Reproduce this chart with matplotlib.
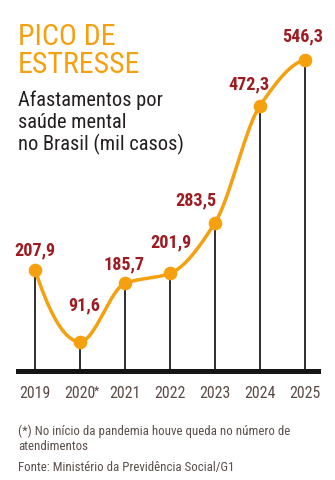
import numpy as np
import matplotlib.pyplot as plt
import matplotlib.transforms as mtransforms
from matplotlib import font_manager as fm

ORANGE = "#f5a00f"
RED = "#9e1b22"
YEAR_GRAY = "#5b4a45"
NOTE_GRAY = "#5b4f4b"

anos = ["2019", "2020", "2021", "2022", "2023", "2024", "2025"]
casos = [207.9, 91.6, 185.7, 201.9, 283.5, 472.3, 546.3]
rotulos = ["207,9", "91,6", "185,7", "201,9", "283,5", "472,3", "546,3"]
# label position: (dx, baseline height above point) in pixels
offsets = [(0, 14.5), (4.5, 31), (-1, 13.5), (1, 25.5), (-19, 17), (-11.5, 16.5), (-2, 18)]


def pick_fonts():
    # look for a condensed/narrow face, fall back to Roboto
    prefs = ["RobotoCondensed", "Roboto_Condensed", "LiberationSansNarrow",
             "DejaVuSansCondensed", "OpenSans_Condensed", "OpenSansCondensed"]
    files = [f.fname for f in fm.fontManager.ttflist]
    for p in prefs:
        hits = [f for f in files if p in f.replace(" ", "").replace("-", "")]
        if not hits:
            continue
        reg = [f for f in hits if not any(k in f for k in ["Bold", "Italic", "Oblique", "Light", "Thin", "Black", "Medium", "Semi", "Extra"])]
        bold = [f for f in hits if "Bold" in f and not any(k in f for k in ["Italic", "Oblique", "Semi", "Extra"])]
        if reg:
            r = fm.FontProperties(fname=reg[0])
            b = fm.FontProperties(fname=bold[0]) if bold else fm.FontProperties(fname=reg[0], weight="bold")
            return r, b
    return fm.FontProperties(family="Roboto"), fm.FontProperties(family="Roboto", weight="bold")


FONT, FONT_B = pick_fonts()


def pchip_curve(xs, ys, n=60):
    xs = np.asarray(xs, float)
    ys = np.asarray(ys, float)
    s = np.diff(ys) / np.diff(xs)
    m = np.zeros_like(ys)
    for i in range(1, len(ys) - 1):
        if s[i - 1] * s[i] > 0:
            m[i] = 2 / (1 / s[i - 1] + 1 / s[i])
    for idx, s0, s1 in [(0, s[0], s[1]), (-1, s[-1], s[-2])]:
        d = (3 * s0 - s1) / 2
        if np.sign(d) != np.sign(s0):
            d = 0
        elif np.sign(s0) != np.sign(s1) and abs(d) > abs(3 * s0):
            d = 3 * s0
        m[idx] = d
    px, py = [], []
    for i in range(len(xs) - 1):
        h = xs[i + 1] - xs[i]
        t = np.linspace(0, 1, n)
        h00 = 2 * t**3 - 3 * t**2 + 1
        h10 = t**3 - 2 * t**2 + t
        h01 = -2 * t**3 + 3 * t**2
        h11 = t**3 - t**2
        yy = h00 * ys[i] + h10 * h * m[i] + h01 * ys[i + 1] + h11 * h * m[i + 1]
        px.append(xs[i] + t * h)
        py.append(yy)
    return np.concatenate(px), np.concatenate(py)


W, H = 335, 480
fig = plt.figure(figsize=(W / 100, H / 100), dpi=100)
fig.patch.set_facecolor("white")

Y0 = 45.2
ax = fig.add_axes([18 / W, (H - 370.5) / H, 300 / W, 330.5 / H])
ax.set_xlim(-17 / 45, 6 + 13 / 45)
ax.set_ylim(Y0, Y0 + 330.5 / 0.62)
ax.axis("off")

x = np.arange(len(anos))
ax.vlines(x, Y0, casos, color="#2e2e2e", lw=1.4, zorder=1)
ax.axhline(Y0, color="#151515", lw=3.6, zorder=2, clip_on=False)

cx, cy = pchip_curve(x, casos)
ax.plot(cx, cy, color=ORANGE, lw=2.5, zorder=3, solid_capstyle="round")
ax.plot(x, casos, "o", color=ORANGE, ms=8.8, zorder=4)

val_texts = []
for xi, yi, lab, (dx, dy) in zip(x, casos, rotulos, offsets):
    t = ax.annotate(lab, (xi, yi), xytext=(dx, dy), textcoords="offset pixels",
                    ha="center", va="baseline", color=RED, fontproperties=FONT_B, fontsize=13)
    val_texts.append(t)

yr = mtransforms.blended_transform_factory(ax.transData, fig.transFigure)
year_texts = []
for xi, a in zip(x, anos):
    t = ax.text(xi, 1 - 398 / H, a, transform=yr, ha="center", va="baseline",
                color=YEAR_GRAY, fontproperties=FONT, fontsize=12)
    year_texts.append(t)
star = ax.annotate("*", (1, 1 - 398 / H), xycoords=yr, xytext=(17, 3), textcoords="offset pixels",
                   ha="center", va="baseline", color=YEAR_GRAY, fontproperties=FONT, fontsize=10)


def ftext(ypx, s, color, fp, size):
    return fig.text(18 / W, 1 - ypx / H, s, color=color, fontproperties=fp, fontsize=size, va="baseline")


tit = [ftext(45, "PICO DE", ORANGE, FONT, 20), ftext(73, "ESTRESSE", ORANGE, FONT, 20)]
sub = [ftext(106, "Afastamentos por", "#231f20", FONT, 16),
       ftext(128, "saúde mental", "#231f20", FONT, 16),
       ftext(150, "no Brasil (mil casos)", "#231f20", FONT, 16)]
notes = [ftext(435, "(*) No início da pandemia houve queda no número de", NOTE_GRAY, FONT, 10),
         ftext(450, "atendimentos", NOTE_GRAY, FONT, 10),
         ftext(471.5, "Fonte: Ministério da Previdência Social/G1", NOTE_GRAY, FONT, 10)]

# scale each text group so its reference line is a bit wider than in the original
# (the fallback font is wider, so text would otherwise look too small)
renderer = fig.canvas.get_renderer()
groups = [(tit, tit[1], 122), (sub, sub[2], 166), (notes, notes[0], 270),
          (year_texts, year_texts[0], 31), (val_texts, val_texts[0], 41)]
for grp, ref, target in groups:
    w = ref.get_window_extent(renderer).width
    k = target / w
    for t in grp:
        t.set_fontsize(t.get_fontsize() * k)
star.set_fontsize(year_texts[0].get_fontsize() * 0.8)

fig.savefig("out.png", dpi=100)
